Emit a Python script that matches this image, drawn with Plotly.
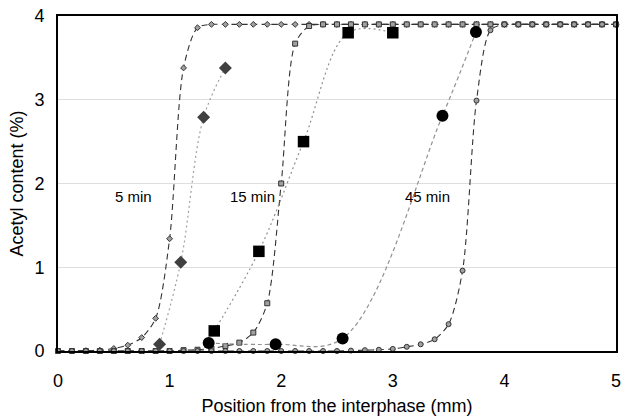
import plotly.graph_objects as go

# Model curves sampled every 0.125 mm
model_x = [i * 0.125 for i in range(41)]
model_5 = [0, 0, 0.005, 0.01, 0.03, 0.07, 0.16, 0.39, 1.34, 3.38, 3.86, 3.9] + [3.9] * 29
model_15 = [0] * 9 + [0.01, 0.015, 0.03, 0.06, 0.10, 0.22, 0.57, 2.0, 3.67, 3.88] + [3.9] * 22
model_45 = [0] * 21 + [0.005, 0.01, 0.015, 0.025, 0.05, 0.08, 0.14, 0.32, 0.96, 2.99, 3.83] + [3.9] * 9

# Experimental data
exp5_x = [0.91, 1.10, 1.305, 1.50]
exp5_y = [0.08, 1.06, 2.79, 3.38]
exp15_x = [1.40, 1.80, 2.20, 2.60, 3.00]
exp15_y = [0.24, 1.19, 2.50, 3.80, 3.80]
exp45_x = [1.35, 1.95, 2.55, 3.445, 3.745]
exp45_y = [0.095, 0.08, 0.15, 2.81, 3.81]

labels = ["5 min", "15 min", "45 min"]
label_x = [0.68, 1.74, 3.31]
label_y = [1.85, 1.85, 1.85]

FONT = "Liberation Sans, Arial"
fig = go.Figure()

model_dash = "6px,4px"
for y, sym, sz in [(model_5, "diamond", 4.5), (model_15, "square", 5), (model_45, "circle", 5)]:
    fig.add_trace(go.Scatter(
        x=model_x, y=y, mode="lines+markers",
        line=dict(color="#333333", width=1.1, dash=model_dash, shape="spline", smoothing=0.8),
        marker=dict(symbol=sym, size=sz, color="#a0a0a0",
                    line=dict(color="#333333", width=1)),
        cliponaxis=False, showlegend=False))

fits = [
    (exp5_x, exp5_y, "#a0a0a0", "2px,3px"),
    (exp15_x, exp15_y, "#909090", "2px,3px"),
    (exp45_x, exp45_y, "#909090", "4px,3px"),
]
for xs, ys, col, dash in fits:
    fig.add_trace(go.Scatter(
        x=xs, y=ys, mode="lines",
        line=dict(color=col, width=1.2, dash=dash, shape="spline", smoothing=1.0),
        cliponaxis=False, showlegend=False))

fig.add_trace(go.Scatter(x=exp5_x, y=exp5_y, mode="markers",
                         marker=dict(symbol="diamond", size=10, color="#404040"),
                         cliponaxis=False, showlegend=False))
fig.add_trace(go.Scatter(x=exp15_x, y=exp15_y, mode="markers",
                         marker=dict(symbol="square", size=11.5, color="#000000"),
                         cliponaxis=False, showlegend=False))
fig.add_trace(go.Scatter(x=exp45_x, y=exp45_y, mode="markers",
                         marker=dict(symbol="circle", size=12, color="#000000"),
                         cliponaxis=False, showlegend=False))

for t, lx, ly in zip(labels, label_x, label_y):
    fig.add_annotation(x=lx, y=ly, text=t, showarrow=False,
                       font=dict(family=FONT, size=15, color="#000000"))

fig.update_layout(
    width=626, height=418,
    margin=dict(l=58, r=5, t=16, b=66),
    paper_bgcolor="white", plot_bgcolor="white",
    font=dict(family=FONT, size=18, color="#000000"),
    xaxis=dict(range=[0, 5], dtick=1, showgrid=False, zeroline=False,
               showline=True, linecolor="black", linewidth=2, mirror=True,
               ticks="outside", ticklen=12, tickcolor="rgba(0,0,0,0)", tickfont=dict(size=18),
               title=dict(text="Position from the interphase (mm)", font=dict(size=18), standoff=10)),
    yaxis=dict(range=[0, 4], dtick=1, showgrid=True, gridcolor="#dedede", gridwidth=1,
               zeroline=False, showline=True, linecolor="black", linewidth=2, mirror=True,
               ticks="outside", ticklen=8, tickcolor="rgba(0,0,0,0)", tickfont=dict(size=18),
               title=dict(text="Acetyl content (%)", font=dict(size=18), standoff=6)),
)

fig.write_html("out.html")
